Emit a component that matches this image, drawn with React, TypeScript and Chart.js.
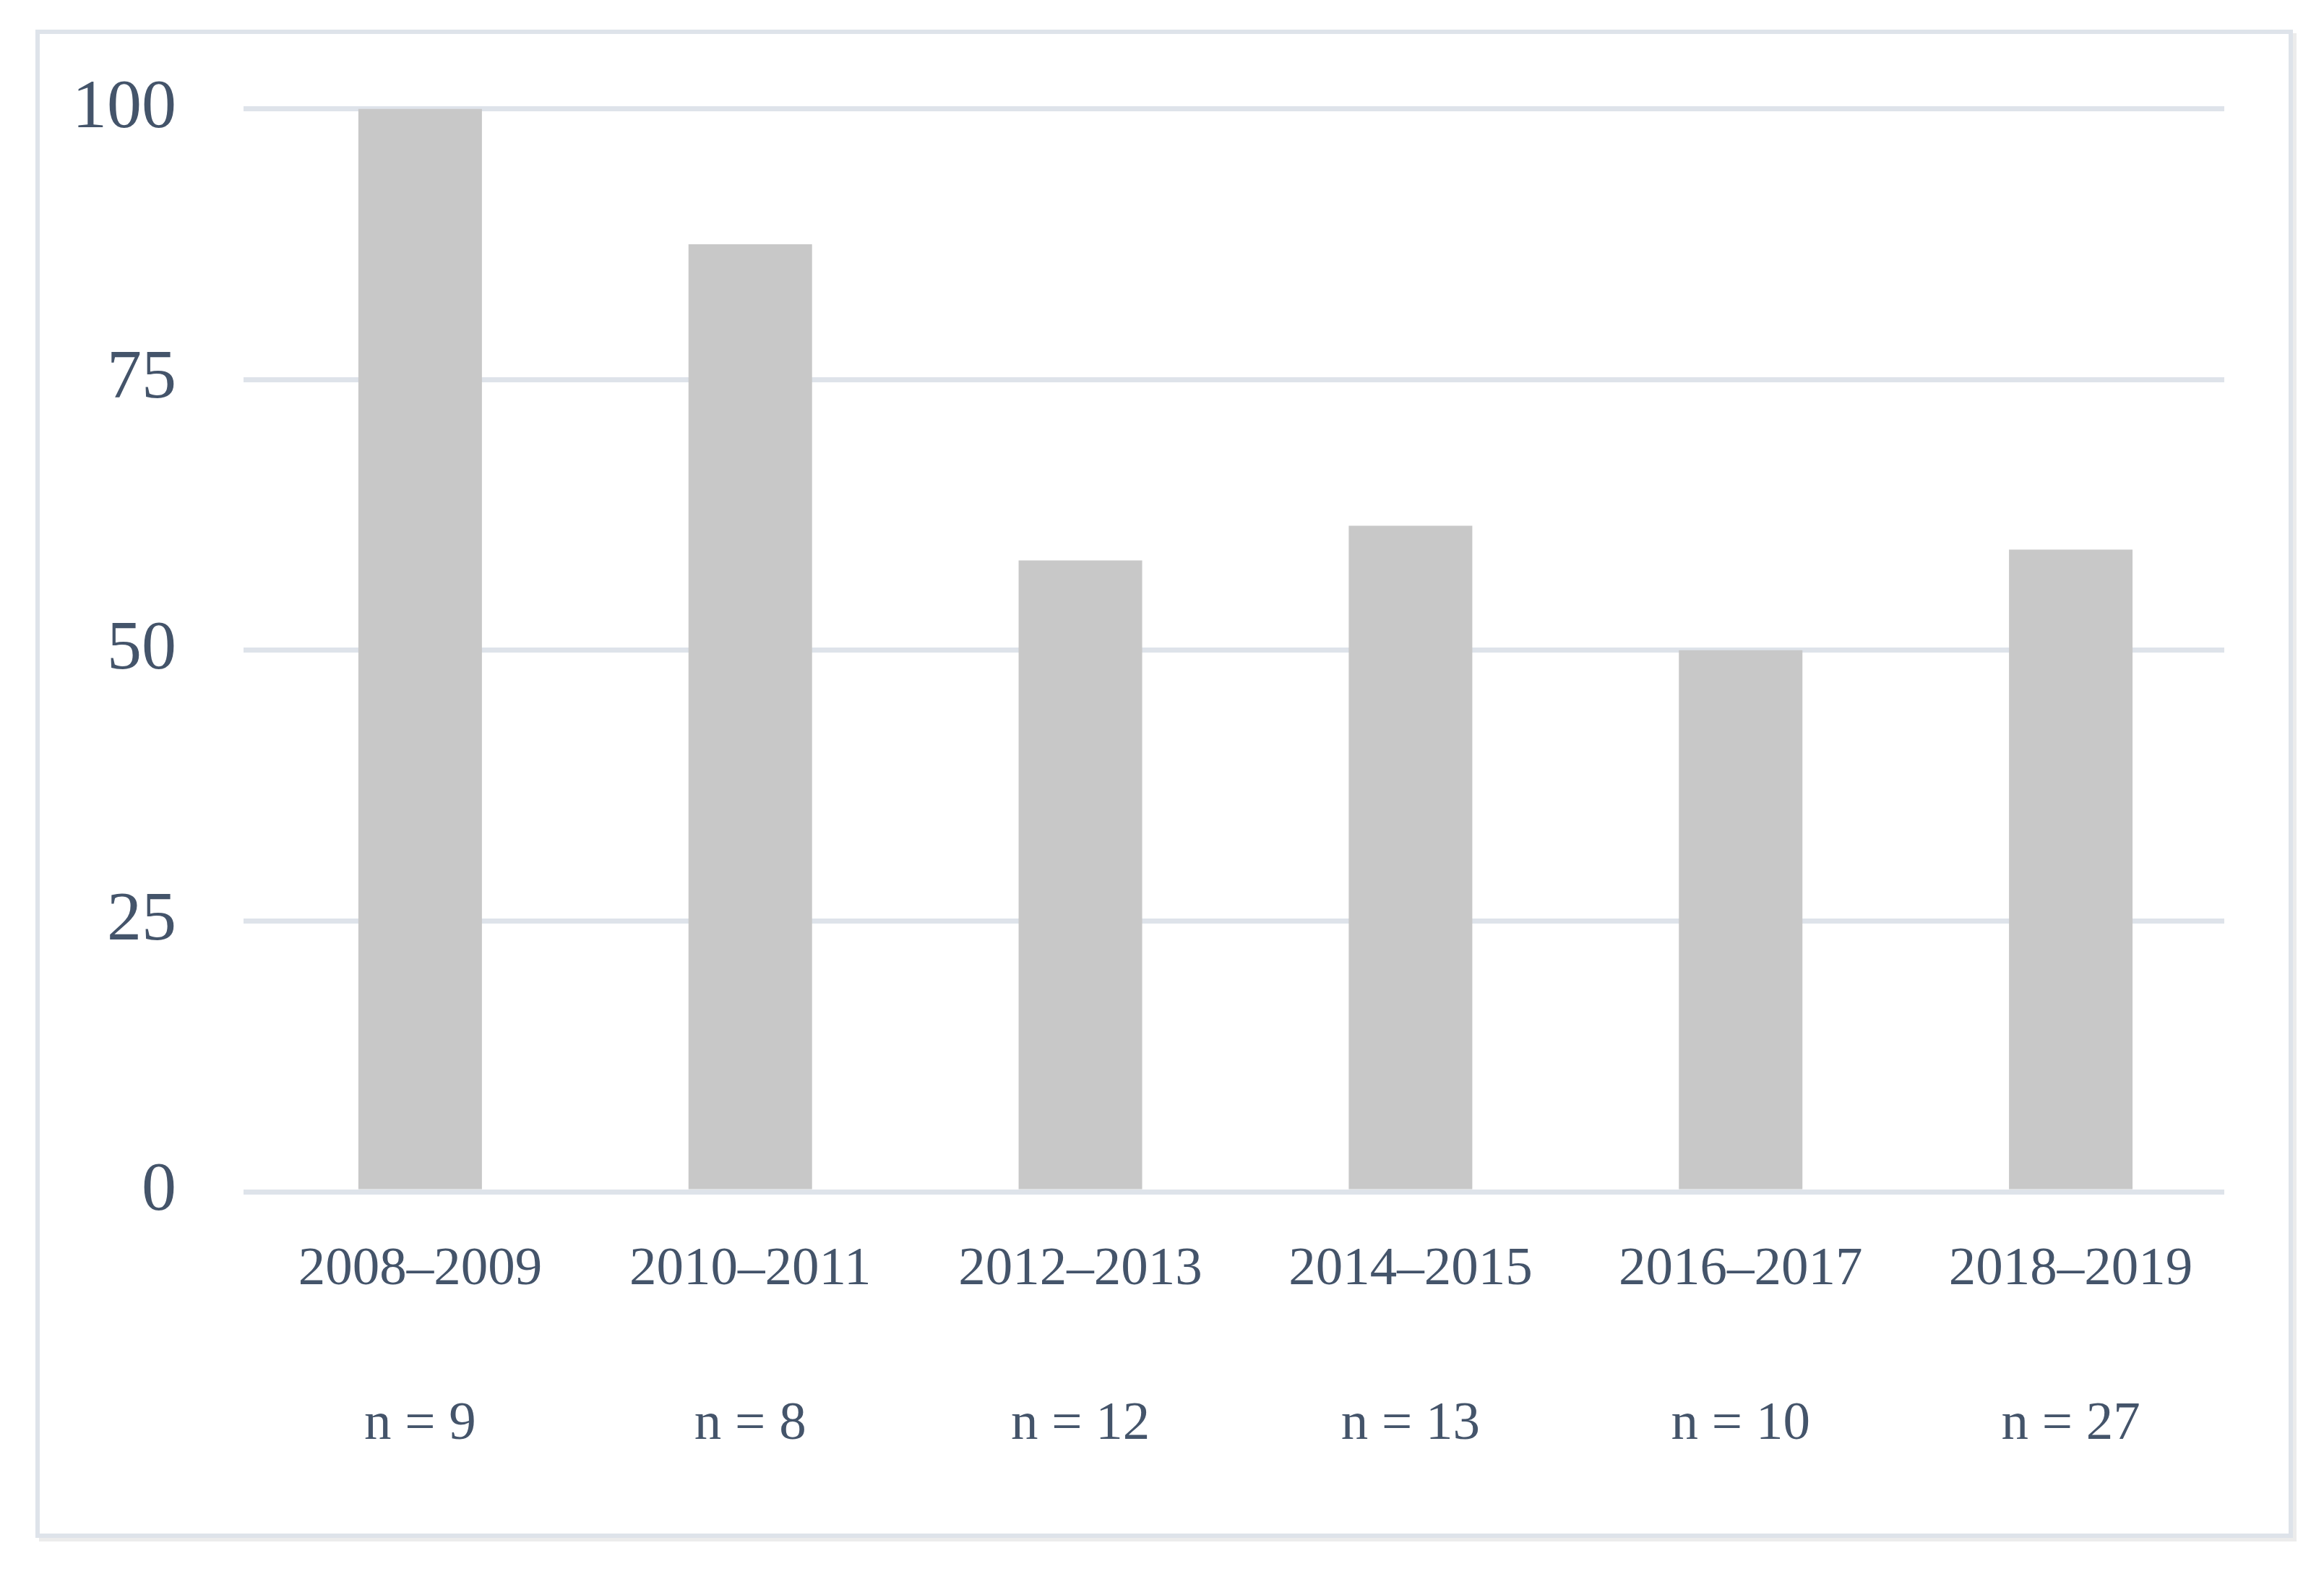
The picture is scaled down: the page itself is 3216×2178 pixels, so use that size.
import React, { useEffect, useRef } from "react";
import { Chart, registerables } from "chart.js";

Chart.register(...registerables);

const categories = ["2008–2009", "2010–2011", "2012–2013", "2014–2015", "2016–2017", "2018–2019"];
const sampleSizes = ["n = 9", "n = 8", "n = 12", "n = 13", "n = 10", "n = 27"];
const shares = [100, 87.5, 58.3, 61.5, 50, 59.3];
const yTickValues = [0, 25, 50, 75, 100];

const TEXT = "#44546A";
const GRID = "#DEE3EA";
const BAR = "#C8C8C8";
const FONT = "'Liberation Serif', 'Times New Roman', serif";

export default function App() {
  const ref = useRef<HTMLCanvasElement | null>(null);

  useEffect(() => {
    const canvas = ref.current;
    if (!canvas) return;
    const chart = new Chart(canvas, {
      type: "bar",
      data: {
        datasets: [
          {
            data: shares.map((v, i) => ({ x: i, y: v })),
            backgroundColor: BAR,
            borderWidth: 0,
            barPercentage: 0.3743,
            categoryPercentage: 1,
          },
        ],
      },
      options: {
        responsive: false,
        animation: false,
        devicePixelRatio: 1,
        layout: { padding: { left: 100, right: 138, top: 148, bottom: 129 } },
        plugins: { legend: { display: false }, tooltip: { enabled: false } },
        scales: {
          x: {
            type: "linear",
            offset: false,
            bounds: "data",
            min: -0.535,
            max: 5.465,
            grid: { display: false, drawTicks: false, offset: false },
            border: { display: false },
            afterBuildTicks: (axis: any) => {
              axis.ticks = categories.map((_, i) => ({ value: i }));
            },
            afterFit: (axis: any) => {
              axis.height = 400;
            },
            ticks: {
              autoSkip: false,
              maxRotation: 0,
              minRotation: 0,
              padding: 1,
              color: TEXT,
              font: { family: FONT, size: 75, lineHeight: 2.853 },
              callback: (value: any) => {
                const i = Math.round(Number(value));
                return [categories[i] ?? "", sampleSizes[i] ?? ""];
              },
            },
          },
          y: {
            min: 0,
            max: 100,
            afterBuildTicks: (axis: any) => {
              axis.ticks = yTickValues.map((v) => ({ value: v }));
            },
            afterFit: (axis: any) => {
              axis.width = 237;
            },
            grid: { color: GRID, lineWidth: 7, drawTicks: false },
            border: { display: false },
            ticks: {
              padding: 93,
              color: TEXT,
              font: { family: FONT, size: 96, lineHeight: 1.2 },
            },
          },
        },
      },
    });
    return () => chart.destroy();
  }, []);

  return (
    <div
      style={{
        position: "absolute",
        left: 0,
        top: 0,
        width: 3216,
        height: 2178,
        background: "#ffffff",
        overflow: "hidden",
      }}
    >
      <div
        style={{
          position: "absolute",
          left: 49,
          top: 41,
          width: 3124,
          height: 2087,
          border: "6px solid #DEE3EA",
          boxSizing: "border-box",
          boxShadow: "5px 5px 0 #ECECEC",
        }}
      />
      <canvas
        ref={ref}
        width={3216}
        height={2178}
        style={{ position: "absolute", left: 0, top: 0, width: 3216, height: 2178 }}
      />
    </div>
  );
}
